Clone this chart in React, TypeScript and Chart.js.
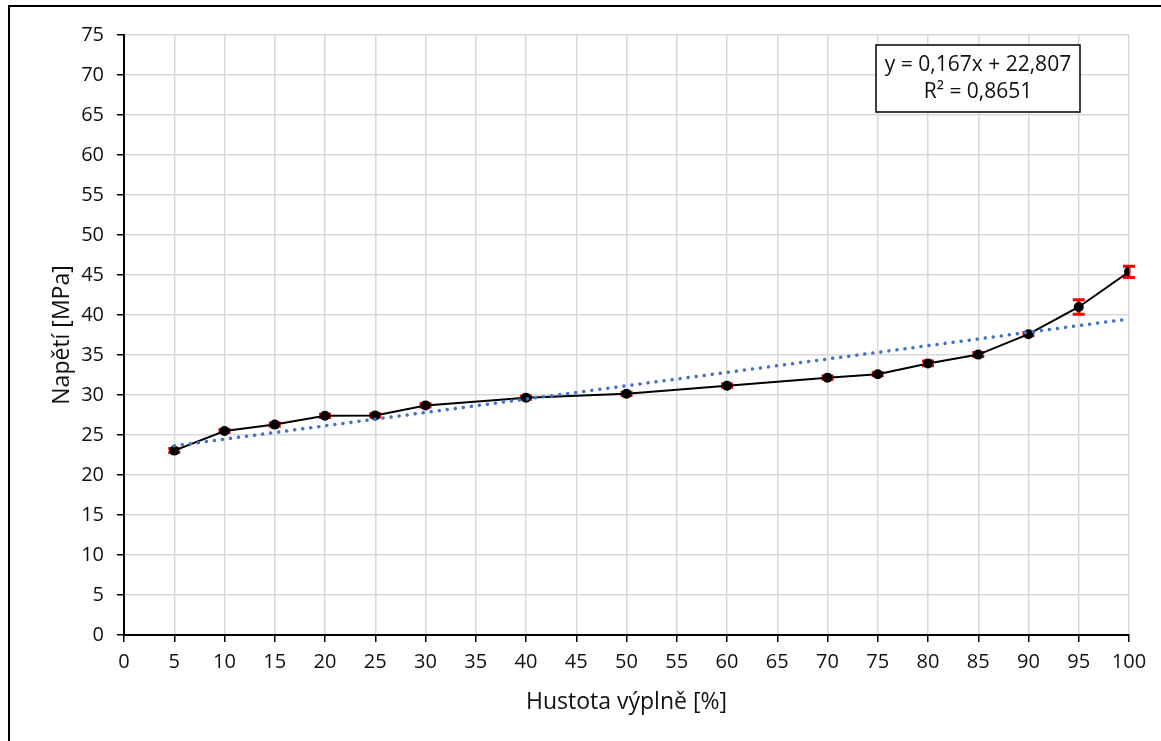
import React, { useEffect, useRef } from "react";
import { Chart, registerables } from "chart.js";

Chart.register(...registerables);

const infill = [5, 10, 15, 20, 25, 30, 40, 50, 60, 70, 75, 80, 85, 90, 95, 100];
const stress = [23.05, 25.5, 26.3, 27.4, 27.45, 28.7, 29.67, 30.15, 31.17, 32.17, 32.6, 33.95, 35.05, 37.6, 41.0, 45.4];
const stressErr = [0.25, 0.2, 0.2, 0.2, 0.2, 0.2, 0.2, 0.2, 0.2, 0.2, 0.2, 0.3, 0.25, 0.2, 0.9, 0.7];
const trendSlope = 0.167;
const trendIntercept = 22.807;
const trendRange = [5, 100];
const equationLines = ["y = 0,167x + 22,807", "R² = 0,8651"];
const xTitle = "Hustota výplně [%]";
const yTitle = "Napětí [MPa]";

const FONT = "'Open Sans', 'Noto Sans', sans-serif";

const errorBarPlugin = {
  id: "errorBars",
  beforeDatasetsDraw(chart: any) {
    const ctx = chart.ctx;
    const xs = chart.scales.x;
    const ys = chart.scales.y;
    ctx.save();
    ctx.strokeStyle = "#FF0000";
    ctx.lineWidth = 3;
    for (let i = 0; i < infill.length; i++) {
      const px = xs.getPixelForValue(infill[i]);
      const top = ys.getPixelForValue(stress[i] + stressErr[i]);
      const bot = ys.getPixelForValue(stress[i] - stressErr[i]);
      ctx.beginPath();
      ctx.moveTo(px, top);
      ctx.lineTo(px, bot);
      ctx.moveTo(px - 6, top);
      ctx.lineTo(px + 6, top);
      ctx.moveTo(px - 6, bot);
      ctx.lineTo(px + 6, bot);
      ctx.stroke();
    }
    ctx.restore();
  },
};

const annotationPlugin = {
  id: "annotations",
  afterDraw(chart: any) {
    const ctx = chart.ctx;
    const area = chart.chartArea;
    ctx.save();
    ctx.fillStyle = "#111";
    ctx.font = `23px ${FONT}`;
    ctx.textAlign = "center";
    ctx.textBaseline = "middle";
    ctx.fillText(xTitle, (area.left + area.right) / 2, 702);
    ctx.save();
    ctx.translate(62, (area.top + area.bottom) / 2);
    ctx.rotate(-Math.PI / 2);
    ctx.fillText(yTitle, 0, 0);
    ctx.restore();
    const bx = 876, by = 45, bw = 204, bh = 67;
    ctx.fillStyle = "#fff";
    ctx.fillRect(bx, by, bw, bh);
    ctx.strokeStyle = "#000";
    ctx.lineWidth = 1.5;
    ctx.strokeRect(bx, by, bw, bh);
    ctx.fillStyle = "#111";
    ctx.font = `21px ${FONT}`;
    ctx.fillText(equationLines[0], bx + bw / 2, 65);
    ctx.fillText(equationLines[1], bx + bw / 2, 92);
    ctx.restore();
  },
};

export default function App() {
  const ref = useRef<HTMLCanvasElement | null>(null);
  useEffect(() => {
    if (!ref.current) return;
    const chart = new Chart(ref.current, {
      type: "line",
      data: {
        datasets: [
          {
            label: "trend",
            data: trendRange.map((x) => ({ x, y: trendSlope * x + trendIntercept })),
            borderColor: "#4472C4",
            borderWidth: 3.5,
            borderDash: [0.1, 8],
            borderCapStyle: "round",
            pointRadius: 0,
            fill: false,
          },
          {
            label: "data",
            data: infill.map((x, i) => ({ x, y: stress[i] })),
            borderColor: "#000",
            borderWidth: 2,
            pointRadius: 5,
            pointBackgroundColor: "#000",
            pointBorderColor: "#000",
            pointBorderWidth: 0,
            tension: 0,
            fill: false,
          },
        ],
      },
      options: {
        responsive: false,
        animation: false,
        devicePixelRatio: 1,
        layout: { padding: { left: 0, top: 35, right: 32, bottom: 0 } },
        plugins: {
          legend: { display: false },
          tooltip: { enabled: false },
        },
        scales: {
          x: {
            type: "linear",
            min: 0,
            max: 100,
            ticks: {
              stepSize: 5,
              color: "#111",
              font: { family: FONT, size: 20 },
              padding: 8,
              maxRotation: 0,
              autoSkip: false,
            },
            grid: { color: "#d9d9d9", lineWidth: 1.5, tickColor: "#000", tickLength: 7 },
            border: { color: "#000", width: 2 },
            afterFit: (s: any) => {
              s.height = 106;
            },
          },
          y: {
            min: 0,
            max: 75,
            ticks: {
              stepSize: 5,
              color: "#111",
              font: { family: FONT, size: 20 },
              padding: 13,
              autoSkip: false,
            },
            grid: { color: "#d9d9d9", lineWidth: 1.5, tickColor: "#000", tickLength: 7 },
            border: { color: "#000", width: 2 },
            afterFit: (s: any) => {
              s.width = 124;
            },
          },
        },
      },
      plugins: [errorBarPlugin, annotationPlugin],
    } as any);
    return () => chart.destroy();
  }, []);

  return (
    <div style={{ position: "fixed", left: 0, top: 0, width: 1161, height: 741, overflow: "hidden", background: "#fff" }}>
      <div
        style={{
          position: "absolute",
          left: 8,
          top: 5,
          width: 1300,
          height: 900,
          borderLeft: "2px solid #000",
          borderTop: "2px solid #000",
        }}
      />
      <canvas ref={ref} width={1161} height={741} style={{ position: "absolute", left: 0, top: 0, width: 1161, height: 741 }} />
    </div>
  );
}
